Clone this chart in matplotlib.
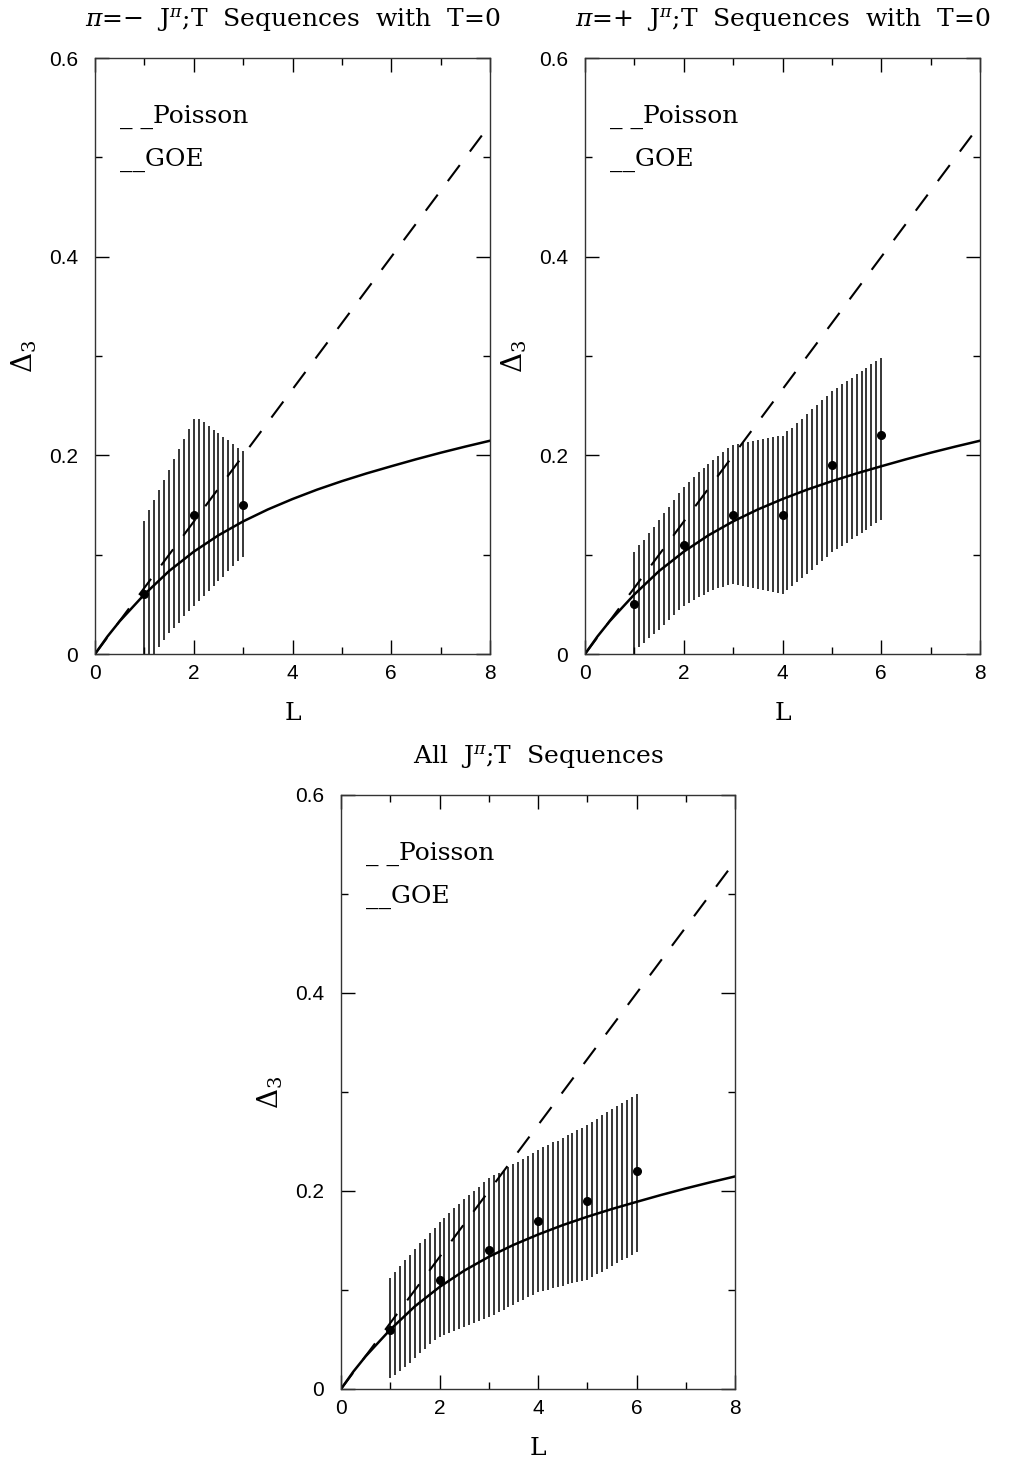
import numpy as np
import matplotlib
matplotlib.use("Agg")
import matplotlib.pyplot as plt
from matplotlib.ticker import MultipleLocator

plt.rcParams['mathtext.fontset'] = 'dejavuserif'

# theory curves
poisson_L = [0, 8]
poisson_D = [0, 0.533]
goe_L = [0, 0.25, 0.5, 1, 1.5, 2, 2.5, 3, 3.5, 4, 4.5, 5, 5.5, 6, 6.5, 7, 7.5, 8]
goe_D = [0, 0.0175, 0.033, 0.060, 0.0835, 0.103, 0.1195, 0.1335, 0.1455, 0.156,
         0.1655, 0.174, 0.1818, 0.189, 0.196, 0.2026, 0.2088, 0.2147]

# pi = - , T=0
neg_L = [1, 2, 3]
neg_D = [0.06, 0.14, 0.15]
neg_band_L = np.linspace(1, 3, 21)
neg_hi = [0.134, 0.145, 0.155, 0.165, 0.175, 0.185, 0.196, 0.206, 0.216, 0.227, 0.237,
          0.237, 0.234, 0.230, 0.226, 0.222, 0.218, 0.215, 0.211, 0.207, 0.204]
neg_lo = [-0.013, -0.009, -0.003, 0.007, 0.014, 0.021, 0.026, 0.031, 0.038, 0.043, 0.048,
          0.053, 0.058, 0.063, 0.068, 0.073, 0.078, 0.084, 0.089, 0.094, 0.098]

# pi = + , T=0
pos_L = [1, 2, 3, 4, 5, 6]
pos_D = [0.05, 0.11, 0.14, 0.14, 0.19, 0.22]
pos_band_L = np.linspace(1, 6, 51)
pos_hi = [0.103, 0.110, 0.115, 0.122, 0.128, 0.135, 0.142, 0.148, 0.155, 0.162,
          0.168, 0.173, 0.178, 0.183, 0.187, 0.191, 0.195, 0.199, 0.203, 0.207,
          0.210, 0.211, 0.212, 0.213, 0.214, 0.215, 0.216, 0.217, 0.218, 0.219,
          0.219, 0.224, 0.228, 0.233, 0.237, 0.242, 0.247, 0.251, 0.256, 0.260,
          0.265, 0.268, 0.272, 0.275, 0.278, 0.282, 0.285, 0.288, 0.292, 0.295, 0.298]
pos_lo = [-0.003, 0.007, 0.011, 0.016, 0.020, 0.024, 0.029, 0.034, 0.039, 0.044,
          0.048, 0.051, 0.054, 0.057, 0.059, 0.062, 0.064, 0.066, 0.067, 0.069,
          0.070, 0.069, 0.068, 0.067, 0.066, 0.065, 0.064, 0.063, 0.062, 0.061,
          0.060, 0.064, 0.068, 0.072, 0.077, 0.081, 0.085, 0.090, 0.094, 0.098,
          0.103, 0.106, 0.109, 0.112, 0.116, 0.119, 0.122, 0.125, 0.129, 0.132, 0.135]

# all sequences
all_L = [1, 2, 3, 4, 5, 6]
all_D = [0.06, 0.11, 0.14, 0.17, 0.19, 0.22]
all_band_L = np.linspace(1, 6, 51)
all_hi = [0.112, 0.118, 0.124, 0.130, 0.135, 0.141, 0.147, 0.152, 0.158, 0.163,
          0.169, 0.173, 0.178, 0.183, 0.187, 0.192, 0.196, 0.200, 0.204, 0.209,
          0.213, 0.216, 0.218, 0.221, 0.224, 0.227, 0.229, 0.232, 0.235, 0.238,
          0.241, 0.244, 0.246, 0.249, 0.251, 0.254, 0.257, 0.259, 0.262, 0.264,
          0.267, 0.270, 0.273, 0.277, 0.280, 0.283, 0.286, 0.289, 0.292, 0.295, 0.298]
all_lo = [0.011, 0.014, 0.018, 0.022, 0.026, 0.031, 0.036, 0.040, 0.045, 0.049,
          0.053, 0.055, 0.057, 0.059, 0.061, 0.063, 0.065, 0.067, 0.069, 0.071,
          0.073, 0.075, 0.078, 0.080, 0.083, 0.085, 0.088, 0.090, 0.093, 0.095,
          0.098, 0.099, 0.100, 0.102, 0.103, 0.104, 0.106, 0.107, 0.108, 0.109,
          0.110, 0.113, 0.116, 0.118, 0.121, 0.124, 0.127, 0.130, 0.132, 0.135, 0.138]

titles = [r"$\pi$=$-$  J$^{\pi}$;T  Sequences  with  T=0",
          r"$\pi$=+  J$^{\pi}$;T  Sequences  with  T=0",
          r"All  J$^{\pi}$;T  Sequences"]

W, H = 1018, 1460
fig = plt.figure(figsize=(W / 100, H / 100), dpi=100)
boxes = [(95, 58, 395, 596), (585, 58, 395, 596), (341, 795, 394, 594)]
sets = [(neg_L, neg_D, neg_band_L, neg_hi, neg_lo),
        (pos_L, pos_D, pos_band_L, pos_hi, pos_lo),
        (all_L, all_D, all_band_L, all_hi, all_lo)]

serif = 'DejaVu Serif'
for (x0, y0, w, h), (pL, pD, bL, hi, lo), title in zip(boxes, sets, titles):
    ax = fig.add_axes([x0 / W, (H - y0 - h) / H, w / W, h / H])
    ax.vlines(bL, lo, hi, color='black', lw=1.1)
    ax.plot(goe_L, goe_D, color='black', lw=1.8)
    ax.plot(poisson_L, poisson_D, color='black', lw=1.5, dashes=(9.6, 8.1))
    ax.plot(pL, pD, 'o', color='black', ms=5.5)
    ax.set_xlim(0, 8)
    ax.set_ylim(0, 0.6)
    ax.xaxis.set_minor_locator(MultipleLocator(1))
    ax.yaxis.set_minor_locator(MultipleLocator(0.1))
    ax.set_xticks([0, 2, 4, 6, 8], ['0', '2', '4', '6', '8'])
    ax.set_yticks([0, 0.2, 0.4, 0.6], ['0', '0.2', '0.4', '0.6'])
    ax.tick_params(which='both', direction='in', top=True, right=True, width=1,
                   labelsize=15)
    ax.tick_params(axis='y', pad=12)
    ax.tick_params(axis='x', pad=7)
    ax.tick_params(which='major', length=10)
    ax.tick_params(which='minor', length=5)
    for lab in ax.get_xticklabels() + ax.get_yticklabels():
        lab.set_family('Liberation Sans')
    for s in ax.spines.values():
        s.set_linewidth(1.0)
        s.set_color('#333333')
    ax.set_xlabel('L', family=serif, fontsize=18, labelpad=14)
    ax.set_ylabel(r'$\Delta_3$', fontsize=20, labelpad=7)
    ax.text(0.5, 1 + 38 / h, title, transform=ax.transAxes, ha='center', va='center',
            family=serif, fontsize=18)
    ax.text(25 / w, 1 - 59 / h, '_ _Poisson', transform=ax.transAxes, ha='left',
            va='center', family=serif, fontsize=18)
    ax.text(25 / w, 1 - 102 / h, '__GOE', transform=ax.transAxes, ha='left',
            va='center', family=serif, fontsize=18)

fig.savefig('out.png', dpi=100)
